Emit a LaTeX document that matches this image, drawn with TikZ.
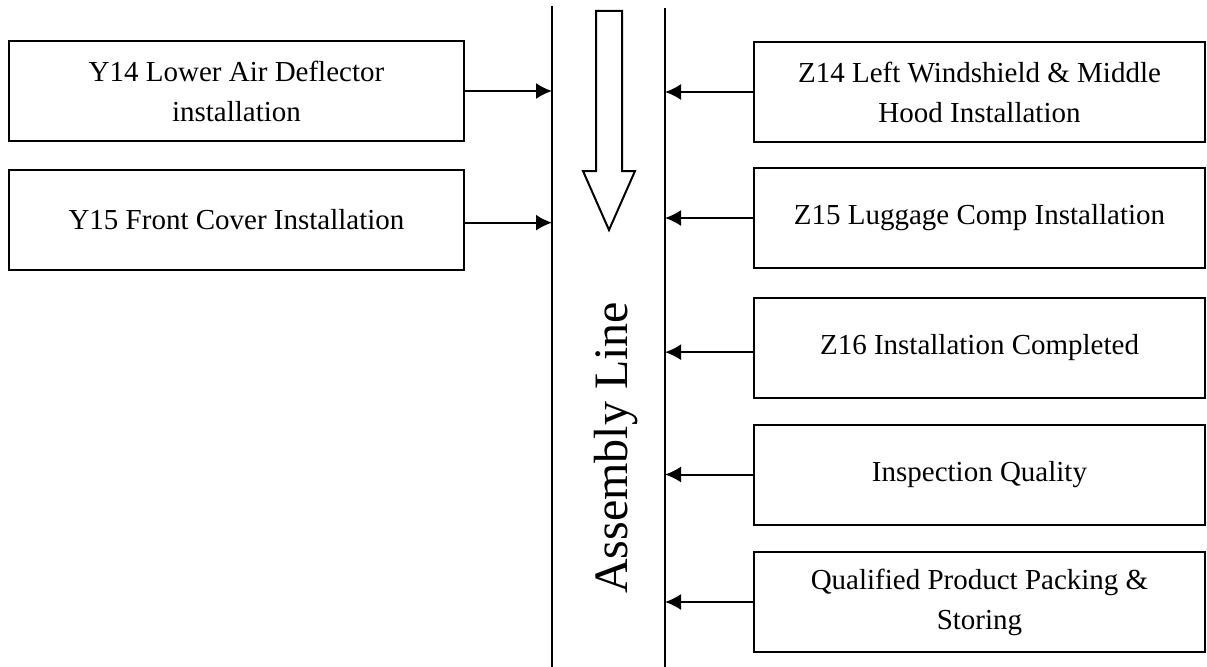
\documentclass[tikz,border=0pt]{standalone}
\usepackage{fontspec}
\setmainfont{Liberation Serif}
\usepackage{tikz}
\usetikzlibrary{arrows.meta}
\tikzstyle{arrow} = [line width=1.5pt,-{Latex[length=12pt,width=12pt]}]
\tikzstyle{stage} = [draw, line width=1.5pt, rectangle, align=center, inner sep=0pt, minimum height=75pt, font=\fontsize{21.75}{30}\selectfont]

\begin{document}
\begin{tikzpicture}[x=0.75pt, y=-0.75pt, line width=1.5pt]
    \useasboundingbox (0,0) rectangle (1207,667);
    % Nodes
    \node[stage, minimum width=341pt] (Y14) at (236.5,91) {Y14 Lower Air Deflector\\installation};
    \node[stage, minimum width=341pt] (Y15) at (236.5,220) {Y15 Front Cover Installation};
    \node[stage, minimum width=338pt] (Z14) at (979.5,92) {Z14 Left Windshield \& Middle\\Hood Installation};
    \node[stage, minimum width=338pt] (Z15) at (979.5,218) {Z15 Luggage Comp Installation};
    \node[stage, minimum width=338pt] (Z16) at (979.5,347.5) {Z16 Installation Completed};
    \node[stage, minimum width=338pt] (IQ) at (979.5,474.5) {Inspection Quality};
    \node[stage, minimum width=338pt] (QP) at (979.5,602) {Qualified Product Packing \&\\Storing};
    \node[rotate=90, font=\fontsize{36}{40}\selectfont] (AL) at (616,448) {Assembly Line};

    % Line
    \coordinate (Ltop) at (552,6);
    \coordinate (Lbot) at (552,667);
    \coordinate (Rtop) at (665,8);
    \coordinate (Rbot) at (665,667);
    \draw (Ltop) -- (Lbot);
    \draw (Rtop) -- (Rbot);
    \draw (596,11) -- (622,11) -- (622,171) -- (635,171) -- (609,230) -- (583,171) -- (596,171) -- cycle;

    % Edges
    \draw[arrow] (Y14.east) -- (Y14.east -| Ltop);
    \draw[arrow] ([yshift=-2pt]Y15.east) -- ([yshift=-2pt]Y15.east -| Ltop);
    \draw[arrow] (Z14.west) -- (Z14.west -| Rtop);
    \draw[arrow] (Z15.west) -- (Z15.west -| Rtop);
    \draw[arrow] ([yshift=-3.5pt]Z16.west) -- ([yshift=-3.5pt]Z16.west -| Rtop);
    \draw[arrow] (IQ.west) -- (IQ.west -| Rtop);
    \draw[arrow] (QP.west) -- (QP.west -| Rtop);
  \end{tikzpicture}
\end{document}
